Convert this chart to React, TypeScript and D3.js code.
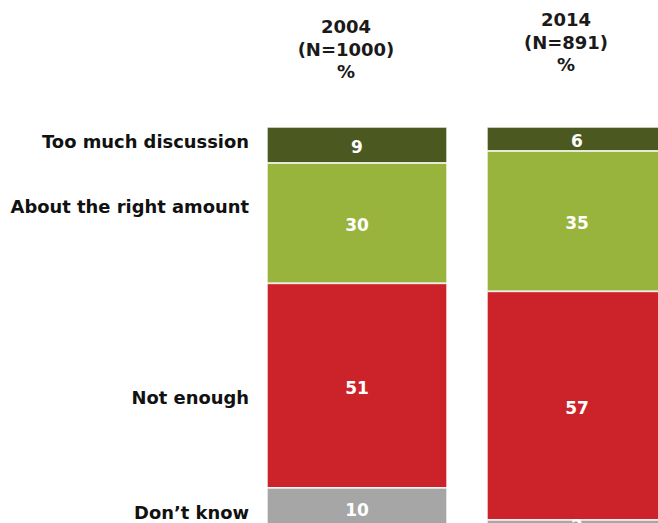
import React from "react";
import * as d3 from "d3";

const years = ["2004", "2014"];
const sampleSizes = ["(N=1000)", "(N=891)"];
const categories = ["Too much discussion", "About the right amount", "Not enough", "Don\u2019t know"];
const values2004 = [9, 30, 51, 10];
const values2014 = [6, 35, 57, 2];
// row-label anchor positions, in percentage units from the top of the bars
const rowLabelAt = [3.6, 19.75, 67.4, 96.25];

const colors = ["#4b5920", "#99b43d", "#cc232b", "#a6a6a6"];

const W = 658;
const H = 523;
const FONT = "'DejaVu Sans', Verdana, sans-serif";

export default function App() {
  const series = [values2004, values2014];
  const x = d3.scaleBand<string>().domain(years).range([267, 667]).paddingInner(40 / 220).paddingOuter(0);
  const y = d3.scaleLinear().domain([0, 100]).range([127, 528]);

  const headerBaseline = [33, 26];
  const lineGap = 22.5;

  return (
    <svg width={W} height={H} style={{ position: "absolute", left: 0, top: 0, display: "block" }} fontFamily={FONT}>
      {years.map((yr, i) => {
        const vals = series[i];
        const cum = d3.cumsum(vals);
        const x0 = x(yr)!;
        const bw = x.bandwidth();
        const cx = x0 + bw / 2;
        const hx = cx - 11;
        const hb = headerBaseline[i];
        return (
          <g key={yr}>
            <text x={hx} y={hb} textAnchor="middle" fontSize={18} fontWeight="bold" fill="#1a1a1a">{yr}</text>
            <text x={hx} y={hb + lineGap} textAnchor="middle" fontSize={18} fontWeight="bold" fill="#1a1a1a">{sampleSizes[i]}</text>
            <text x={hx} y={hb + lineGap * 2} textAnchor="middle" fontSize={18} fontWeight="bold" fill="#1a1a1a">%</text>
            {vals.map((v, j) => {
              const start = cum[j] - v;
              return (
                <rect key={j} x={x0} y={y(start)} width={bw} height={y(cum[j]) - y(start)}
                  fill={colors[j]} stroke="#ffffff" strokeOpacity={0.85} strokeWidth={1.6} />
              );
            })}
            {vals.map((v, j) => {
              const start = cum[j] - v;
              const my = (y(start) + y(cum[j])) / 2 + 2;
              return (
                <text key={"t" + j} x={cx} y={my} textAnchor="middle" dominantBaseline="central"
                  fontSize={17} fontWeight="bold" fill="#ffffff">{v}</text>
              );
            })}
          </g>
        );
      })}
      {categories.map((c, j) => (
        <text key={c} x={249} y={y(rowLabelAt[j])} textAnchor="end" dominantBaseline="central"
          fontSize={17.9} fontWeight="bold" fill="#111111">{c}</text>
      ))}
    </svg>
  );
}
